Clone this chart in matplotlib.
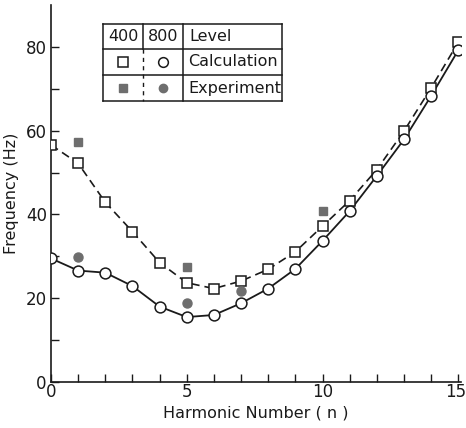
import numpy as np
import matplotlib.pyplot as plt
import matplotlib.transforms as mtransforms
from matplotlib.lines import Line2D

# harmonic numbers
n = np.arange(0, 16)

# calculated natural frequencies (Hz)
calc_400 = [56.6, 52.2, 42.9, 35.9, 28.5, 23.7, 22.3, 24.1, 26.9, 31.1,
            37.2, 43.3, 50.7, 59.9, 70.2, 81.1]
calc_800 = [29.5, 26.6, 26.1, 22.9, 18.0, 15.5, 16.0, 18.8, 22.3, 27.0,
            33.7, 40.8, 49.2, 57.9, 68.3, 79.2]

# measured frequencies
exp_400_n = [1, 5, 10]
exp_400 = [57.4, 27.5, 40.8]
exp_800_n = [1, 5, 7]
exp_800 = [29.8, 18.8, 21.8]

levels = ["400", "800", "Level"]
row_names = ["Calculation", "Experiment"]

ink = "#1a1a1a"
grey = "#6e6e6e"

fig = plt.figure(figsize=(4.66, 4.28), dpi=100)
ax = fig.add_axes([51 / 466, 1 - 382 / 428, 410 / 466, 377 / 428])

ax.plot(n, calc_400, ls=(0, (5, 3)), color=ink, lw=1.2, zorder=2)
ax.plot(n, calc_800, ls="-", color=ink, lw=1.3, zorder=2)
ax.plot(n, calc_400, ls="none", marker="s", ms=7, mfc="white", mec=ink, mew=1.1, zorder=3)
ax.plot(n, calc_800, ls="none", marker="o", ms=7.8, mfc="white", mec=ink, mew=1.1, zorder=3)
ax.plot(exp_400_n, exp_400, ls="none", marker="s", ms=6, mfc=grey, mec=grey, zorder=3)
ax.plot(exp_800_n, exp_800, ls="none", marker="o", ms=6.5, mfc=grey, mec=grey, zorder=3)

ax.set_xlim(0, 15.1)
ax.set_ylim(0, 90)
ax.spines["top"].set_visible(False)
ax.spines["right"].set_visible(False)
for s in ("left", "bottom"):
    ax.spines[s].set_color(ink)
    ax.spines[s].set_linewidth(1.2)

ax.set_xticks([0, 5, 10, 15])
ax.set_xticks(n, minor=True)
ax.set_yticks([0, 20, 40, 60, 80])
ax.set_yticks([10, 30, 50, 70], minor=True)
ax.tick_params(which="both", direction="in", length=6, width=1.0, color=ink)
ax.tick_params(axis="x", labelsize=12, pad=1)
ax.tick_params(axis="y", labelsize=12, pad=3)
for lab in ax.get_xticklabels() + ax.get_yticklabels():
    lab.set_color(ink)
# keep the last x label inside the figure edge
last = ax.get_xticklabels()[-1]
last.set_transform(last.get_transform() +
                   mtransforms.ScaledTranslation(-3 / 100, 0, fig.dpi_scale_trans))

ax.set_xlabel("Harmonic Number ( n )", fontsize=11.5, color=ink, labelpad=3)
ax.set_ylabel("Frequency (Hz)", fontsize=11.5, color=ink, labelpad=5)

# legend table drawn in figure pixels
def fx(px):
    return px / 466

def fy(py):
    return 1 - py / 428

x0, x1, x2, x3 = 103, 143, 183, 282
y0, y1, y2, y3 = 24, 49, 75, 101
kw = dict(transform=fig.transFigure, color=ink, lw=1.1)
for xx in (x0, x3, x2):
    fig.add_artist(Line2D([fx(xx), fx(xx)], [fy(y0), fy(y3)], **kw))
for yy in (y0, y1, y2, y3):
    fig.add_artist(Line2D([fx(x0), fx(x3)], [fy(yy), fy(yy)], **kw))
fig.add_artist(Line2D([fx(x1), fx(x1)], [fy(y0), fy(y1)], **kw))
fig.add_artist(Line2D([fx(x1), fx(x1)], [fy(y1), fy(y3)], transform=fig.transFigure,
                      color=ink, lw=1.0, ls=(0, (3, 3))))

yc = [(y0 + y1) / 2, (y1 + y2) / 2, (y2 + y3) / 2]
xc = [(x0 + x1) / 2, (x1 + x2) / 2]
for i, t in enumerate(levels[:2]):
    fig.text(fx(xc[i]), fy(yc[0]), t, ha="center", va="center", fontsize=11.5, color=ink)
fig.text(fx(x2 + 6), fy(yc[0]), levels[2], ha="left", va="center", fontsize=11.5, color=ink)
for j, t in enumerate(row_names):
    fig.text(fx(x2 + 5), fy(yc[j + 1]), t, ha="left", va="center", fontsize=11.5, color=ink)

mk = dict(transform=fig.transFigure, ls="none")
fig.add_artist(Line2D([fx(xc[0])], [fy(yc[1])], marker="s", ms=6.5, mfc="white", mec=ink, mew=1.1, **mk))
fig.add_artist(Line2D([fx(xc[1])], [fy(yc[1])], marker="o", ms=7, mfc="white", mec=ink, mew=1.1, **mk))
fig.add_artist(Line2D([fx(xc[0])], [fy(yc[2])], marker="s", ms=6, mfc=grey, mec=grey, **mk))
fig.add_artist(Line2D([fx(xc[1])], [fy(yc[2])], marker="o", ms=6, mfc=grey, mec=grey, **mk))

fig.savefig("out.png", dpi=100)
